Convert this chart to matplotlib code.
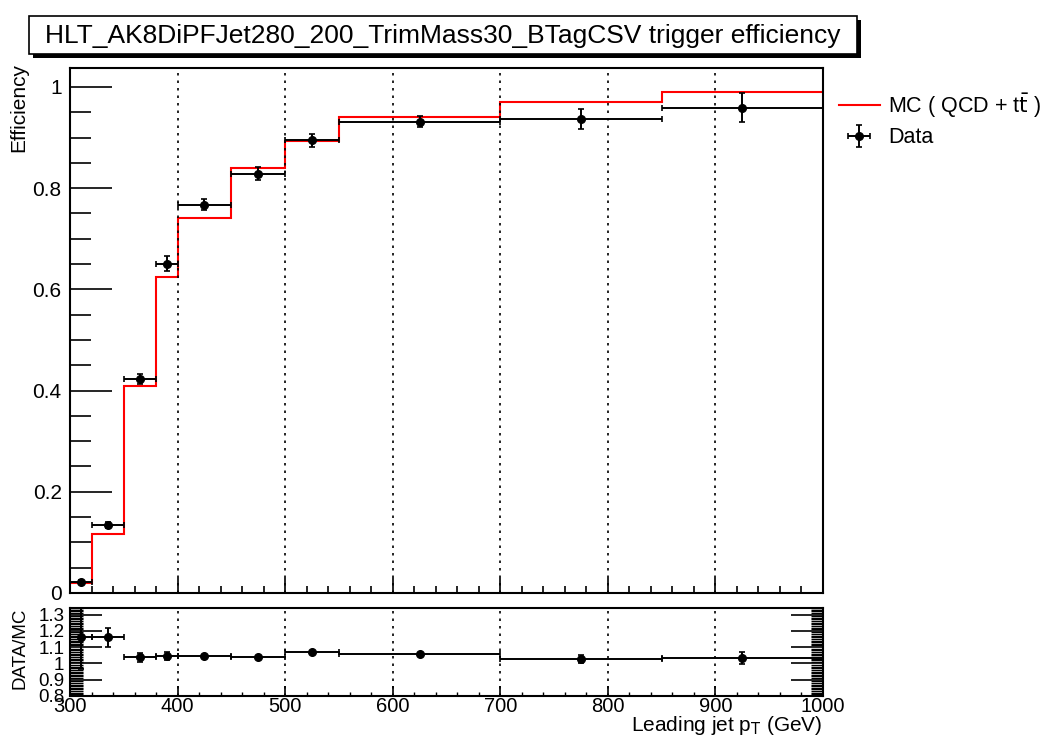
import numpy as np
import matplotlib.pyplot as plt
from matplotlib.patches import Rectangle
from matplotlib.ticker import MultipleLocator, FuncFormatter

plt.rcParams['font.family'] = ['Liberation Sans', 'DejaVu Sans']

# bin edges in leading jet pT (GeV)
edges = [300, 320, 350, 380, 400, 450, 500, 550, 700, 850, 1000]

# MC (QCD + ttbar) efficiency per bin
mc_eff = [0.019, 0.116, 0.409, 0.624, 0.741, 0.839, 0.894, 0.941, 0.971, 0.991]

# data efficiency and uncertainty
data_eff = [0.022, 0.134, 0.423, 0.651, 0.767, 0.829, 0.895, 0.931, 0.936, 0.959]
data_err = [0.003, 0.006, 0.010, 0.015, 0.011, 0.013, 0.013, 0.011, 0.020, 0.029]

# data / MC ratio
ratio = [1.165, 1.160, 1.037, 1.043, 1.045, 1.039, 1.068, 1.056, 1.028, 1.033]
ratio_err = [0.200, 0.057, 0.026, 0.024, 0.008, 0.008, 0.010, 0.005, 0.023, 0.034]

edges = np.array(edges, dtype=float)
centers = 0.5 * (edges[1:] + edges[:-1])
halfw = 0.5 * (edges[1:] - edges[:-1])

W, H = 1052, 735
fig = plt.figure(figsize=(W / 100, H / 100), dpi=100)

def fx(p):
    return p / W

def fy(p):
    return 1 - p / H

ax = fig.add_axes([fx(70), fy(593), fx(823) - fx(70), fy(68) - fy(593)])
rax = fig.add_axes([fx(70), fy(696), fx(823) - fx(70), fy(608) - fy(696)])

# main panel
ax.stairs(mc_eff, edges, color='red', lw=1.5, baseline=None, label='MC ( QCD + t$\\bar{\\mathrm{t}}$ )')
ax.errorbar(centers, data_eff, xerr=halfw, yerr=data_err, fmt='o', color='black',
            ms=5.5, lw=1.4, capsize=2.5, capthick=1.2, label='Data')
ax.set_xlim(300, 1000)
ax.set_ylim(0, 1.0375)
ax.yaxis.set_major_locator(MultipleLocator(0.2))
ax.yaxis.set_minor_locator(MultipleLocator(0.05))
ax.xaxis.set_major_locator(MultipleLocator(100))
ax.xaxis.set_minor_locator(MultipleLocator(20))
ax.yaxis.set_major_formatter(FuncFormatter(lambda v, p: '%g' % round(v, 3)))
ax.tick_params(axis='y', which='major', direction='in', length=30, width=1.2, labelsize=15, pad=6)
ax.tick_params(axis='y', which='minor', direction='in', length=15, width=1.2)
ax.tick_params(axis='x', which='major', direction='in', length=11, width=1.2, labelbottom=False)
ax.tick_params(axis='x', which='minor', direction='in', length=5, width=1.2)
ax.grid(True, axis='x', which='major', ls=(0, (1.5, 3)), color='black', lw=1.2)
for s in ax.spines.values():
    s.set_linewidth(1.5)

# ratio panel
rax.errorbar(centers, ratio, xerr=halfw, yerr=ratio_err, fmt='o', color='black',
             ms=5.5, lw=1.4, capsize=2.5, capthick=1.2)
rax.set_xlim(300, 1000)
rax.set_ylim(0.8, 1.34)
rax.yaxis.set_major_locator(MultipleLocator(0.1))
rax.yaxis.set_minor_locator(MultipleLocator(0.01))
rax.xaxis.set_major_locator(MultipleLocator(100))
rax.xaxis.set_minor_locator(MultipleLocator(20))
rax.yaxis.set_major_formatter(FuncFormatter(lambda v, p: '%g' % round(v, 3)))
rax.tick_params(axis='y', which='major', direction='in', length=23, width=1.2, labelsize=13.5,
                pad=4, right=True)
rax.tick_params(axis='y', which='minor', direction='in', length=9, width=1.0, right=True)
rax.tick_params(axis='x', which='major', direction='in', length=7, width=1.2, labelsize=14.5, pad=1)
rax.tick_params(axis='x', which='minor', direction='in', length=3, width=1.0)
rax.grid(True, axis='x', which='major', ls=(0, (1.5, 3)), color='black', lw=1.2)
for s in rax.spines.values():
    s.set_linewidth(1.5)

# axis titles
fig.text(fx(19), fy(63), 'Efficiency', rotation=90, ha='center', va='top', fontsize=15)
fig.text(fx(20), fy(648), 'DATA/MC', rotation=90, ha='center', va='center', fontsize=13.5)
fig.text(fx(822), fy(731), 'Leading jet p$_\\mathrm{T}$ (GeV)', ha='right', va='baseline', fontsize=15)

# title box with shadow
fig.patches.append(Rectangle((fx(33), fy(58)), fx(828), fy(16) - fy(54), transform=fig.transFigure,
                             facecolor='black', edgecolor='black', lw=0))
fig.patches.append(Rectangle((fx(29), fy(54)), fx(828), fy(16) - fy(54), transform=fig.transFigure,
                             facecolor='white', edgecolor='black', lw=1.2))
fig.text(fx(443), fy(36), 'HLT_AK8DiPFJet280_200_TrimMass30_BTagCSV trigger efficiency',
         ha='center', va='center', fontsize=19)

# legend
fig.legend(*ax.get_legend_handles_labels(), loc='upper left', bbox_to_anchor=(fx(830), fy(83)),
           frameon=False, fontsize=15.5, handlelength=1.9, handletextpad=0.4, labelspacing=0.35,
           borderaxespad=0)

fig.savefig('out.png', dpi=100)
